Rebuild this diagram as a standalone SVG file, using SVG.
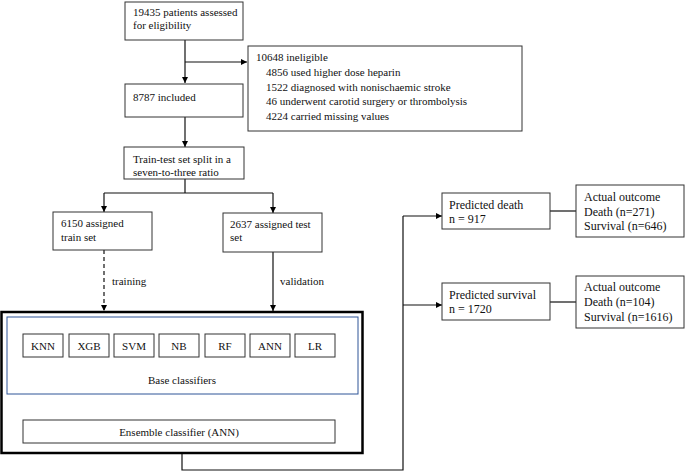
<svg xmlns="http://www.w3.org/2000/svg" width="685" height="472" viewBox="0 0 685 472">
<defs>
<marker id="ah" viewBox="0 0 10 10" refX="10" refY="5" markerWidth="6" markerHeight="6" orient="auto" markerUnits="userSpaceOnUse">
<path d="M0,0 L10,5 L0,10 z" fill="#000"/>
</marker>
<style>
.box{fill:#fff;stroke:#333;stroke-width:1}
.t{font-family:"Liberation Serif","Times New Roman",serif;font-size:11px;fill:#111}
.t12{font-family:"Liberation Serif","Times New Roman",serif;font-size:12px;fill:#111}
.c{text-anchor:middle}
.ln{fill:none;stroke:#111;stroke-width:1.2}
.dash{stroke-dasharray:4,3}
</style>
</defs>
<rect width="685" height="472" fill="#fff"/>

<g id="connectors">
<path class="ln" d="M185,40 V83" marker-end="url(#ah)"/>
<path class="ln" d="M185,62 H247" marker-end="url(#ah)"/>
<path class="ln" d="M185,117 V147" marker-end="url(#ah)"/>
<path class="ln" d="M185,179 V193"/>
<path class="ln" d="M104,193 H273"/>
<path class="ln" d="M104,193 V212" marker-end="url(#ah)"/>
<path class="ln" d="M273,193 V213" marker-end="url(#ah)"/>
<path class="ln dash" d="M104,250 V311" marker-end="url(#ah)"/>
<path class="ln" d="M273,252 V311" marker-end="url(#ah)"/>
<path class="ln dash" d="M182,394 V420" marker-end="url(#ah)"/>
<path class="ln" d="M182,454 V470 H403 V216"/>
<path class="ln" d="M403,216 H442" marker-end="url(#ah)"/>
<path class="ln" d="M403,305 H442" marker-end="url(#ah)"/>
<path class="ln" d="M550,211 H576"/>
<path class="ln" d="M550,302 H576"/>
<text class="t" x="112" y="285">training</text>
<text class="t" x="280" y="285">validation</text>
</g>

<g id="assessed">
<rect class="box" x="125" y="2" width="118" height="38"/>
<text class="t" x="133" y="16">19435 patients assessed</text>
<text class="t" x="133" y="29">for eligibility</text>
</g>

<g id="ineligible">
<rect class="box" x="248" y="46" width="274" height="85"/>
<text class="t" x="256" y="61">10648 ineligible</text>
<text class="t" x="266" y="76">4856 used higher dose heparin</text>
<text class="t" x="266" y="90.5">1522 diagnosed with nonischaemic stroke</text>
<text class="t" x="266" y="105">46 underwent carotid surgery or thrombolysis</text>
<text class="t" x="266" y="119.5">4224 carried missing values</text>
</g>

<g id="included">
<rect class="box" x="125" y="84" width="118" height="33"/>
<text class="t" x="133" y="101">8787 included</text>
</g>

<g id="split">
<rect class="box" x="124" y="147" width="120" height="32"/>
<text class="t" x="133" y="163">Train-test set split in a</text>
<text class="t" x="133" y="176">seven-to-three ratio</text>
</g>

<g id="train">
<rect class="box" x="53" y="212" width="99" height="38"/>
<text class="t" x="61" y="227">6150 assigned</text>
<text class="t" x="61" y="241">train set</text>
</g>

<g id="test">
<rect class="box" x="223" y="213" width="99" height="39"/>
<text class="t" x="230" y="228">2637 assigned test</text>
<text class="t" x="230" y="241">set</text>
</g>

<g id="model">
<rect x="1.5" y="312" width="361" height="141" fill="#fff" stroke="#000" stroke-width="2.5"/>
</g>

<g id="base">
<rect x="7" y="317" width="351" height="77" fill="none" stroke="#2e5597" stroke-width="1"/>
<text class="t c" x="182" y="384">Base classifiers</text>
</g>

<g id="knn"><rect class="box" x="23" y="334" width="40" height="23"/><text class="t c" x="43" y="349.5">KNN</text></g>
<g id="xgb"><rect class="box" x="69" y="334" width="40" height="23"/><text class="t c" x="89" y="349.5">XGB</text></g>
<g id="svm"><rect class="box" x="114" y="334" width="40" height="23"/><text class="t c" x="134" y="349.5">SVM</text></g>
<g id="nb"><rect class="box" x="159" y="334" width="40" height="23"/><text class="t c" x="179" y="349.5">NB</text></g>
<g id="rf"><rect class="box" x="205" y="334" width="40" height="23"/><text class="t c" x="225" y="349.5">RF</text></g>
<g id="ann"><rect class="box" x="250" y="334" width="40" height="23"/><text class="t c" x="270" y="349.5">ANN</text></g>
<g id="lr"><rect class="box" x="295" y="334" width="40" height="23"/><text class="t c" x="315" y="349.5">LR</text></g>

<g id="ensemble">
<rect class="box" x="23" y="420" width="312" height="23"/>
<text class="t c" x="179" y="435.5">Ensemble classifier (ANN)</text>
</g>

<g id="pred-death">
<rect class="box" x="442" y="193" width="108" height="36"/>
<text class="t12" x="449" y="209">Predicted death</text>
<text class="t12" x="449" y="223">n = 917</text>
</g>

<g id="pred-survival">
<rect class="box" x="442" y="283" width="108" height="37"/>
<text class="t12" x="449" y="299">Predicted survival</text>
<text class="t12" x="449" y="313">n = 1720</text>
</g>

<g id="actual-death">
<rect class="box" x="576" y="185" width="108" height="52"/>
<text class="t12" x="584" y="201">Actual outcome</text>
<text class="t12" x="584" y="216">Death (n=271)</text>
<text class="t12" x="584" y="230">Survival (n=646)</text>
</g>

<g id="actual-survival">
<rect class="box" x="576" y="276" width="108" height="52"/>
<text class="t12" x="584" y="291">Actual outcome</text>
<text class="t12" x="584" y="306">Death (n=104)</text>
<text class="t12" x="584" y="321">Survival (n=1616)</text>
</g>
</svg>
